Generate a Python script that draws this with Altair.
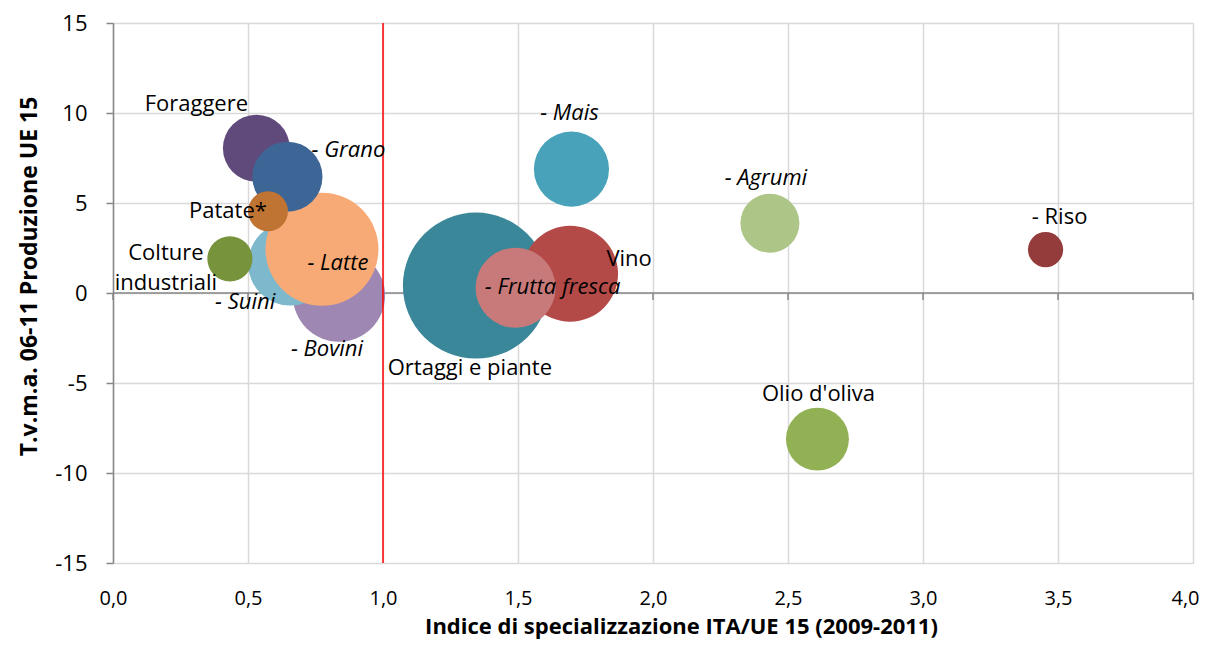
import altair as alt
import pandas as pd

# ---- data ----
prodotti = ["Ortaggi e piante", "Vino", "- Frutta fresca", "- Bovini", "- Suini", "- Latte",
            "Foraggere", "- Grano", "Patate*", "Colture\nindustriali", "- Mais", "- Agrumi",
            "- Riso", "Olio d'oliva"]
indice = [1.344, 1.693, 1.491, 0.837, 0.656, 0.774, 0.531, 0.646, 0.574, 0.433, 1.698, 2.433,
          3.454, 2.609]
tvma = [0.41, 1.07, 0.29, -0.15, 1.63, 2.43, 8.04, 6.46, 4.54, 1.90, 6.88, 3.88, 2.41, -8.12]
valore = [53.3, 23.0, 16.0, 21.2, 17.6, 31.9, 11.2, 12.3, 4.0, 5.1, 14.1, 8.7, 3.1, 9.9]
corsivo = [False, False, True, True, True, True, False, True, False, False, True, True,
           False, False]
colori = ["#3A8799", "#B34A48", "#C87A7A", "#9E87B3", "#7EB8CD", "#F8AA76", "#604A7B",
          "#3D6596", "#C07433", "#77933C", "#48A2BA", "#ADC688", "#943C3B", "#92B054"]
# label offsets from bubble centre, in pixels
label_dx = [-6, 59, 37, -12, -45, 16, -60, 61, -40, -64, -2, -4, 14, 1]
label_dy = [82, -15, -1, 53, 38, 14, -44, -27, 0, -6, -56, -45, -33, -45]

x_ticks = [0, 0.5, 1.0, 1.5, 2.0, 2.5, 3.0, 3.5, 4.0]
y_ticks = [-15, -10, -5, 0, 5, 10, 15]

W, H = 1080, 540
XMIN, XMAX, YMIN, YMAX = 0, 4, -15, 15
px_x = W / (XMAX - XMIN)
px_y = H / (YMAX - YMIN)

df = pd.DataFrame({
    "prodotto": prodotti,
    "indice": indice,
    "tvma": tvma,
    "valore": valore,
    "corsivo": corsivo,
    "ordine": list(range(len(prodotti))),
})
df["lx"] = [a + d / px_x for a, d in zip(indice, label_dx)]
df["ly"] = [b - d / px_y for b, d in zip(tvma, label_dy)]

FONT = "Open Sans"

xscale = alt.Scale(domain=[XMIN, XMAX], nice=False, zero=False)
yscale = alt.Scale(domain=[YMIN, YMAX], nice=False, zero=False)

x_axis = alt.Axis(
    values=x_ticks, grid=True, gridColor="#D9D9D9", gridWidth=1.5, ticks=False, domain=False,
    labelExpr="replace(format(datum.value, '.1f'), '.', ',')",
    labelFont=FONT, labelFontSize=20, labelColor="#000000", labelPadding=25,
    labelOffset={"condition": {"test": "datum.value == 4", "value": -8}, "value": 0},
    labelOverlap=False, labelBound=False, labelFlush=False,
    title="Indice di specializzazione ITA/UE 15 (2009-2011)",
    titleFont=FONT, titleFontSize=22, titleFontWeight="bold", titleColor="#000000",
    titleX=568, titleY=70, titleBaseline="alphabetic", titleAlign="center",
)
y_axis = alt.Axis(
    values=y_ticks, grid=True, gridColor="#D9D9D9", gridWidth=1.5,
    ticks=True, tickSize=7, tickColor="#868686", tickWidth=1.5,
    domain=True, domainColor="#868686", domainWidth=1.5,
    labelExpr="toString(datum.value)", labelOverlap=False,
    labelFont=FONT, labelFontSize=22, labelColor="#000000", labelPadding=19,
    title="T.v.m.a. 06-11 Produzione UE 15",
    titleFont=FONT, titleFontSize=23, titleFontWeight="bold", titleColor="#000000",
    titleAngle=270, titleX=-77, titleY=253, titleBaseline="alphabetic", titleAlign="center",
)

base = alt.Chart(df)

bubbles = base.mark_circle(opacity=1).encode(
    x=alt.X("indice:Q", scale=xscale, axis=x_axis),
    y=alt.Y("tvma:Q", scale=yscale, axis=y_axis),
    size=alt.Size("valore:Q", scale=alt.Scale(domain=[0, 53.3], range=[0, 21316]), legend=None),
    color=alt.Color("prodotto:N", scale=alt.Scale(domain=prodotti, range=colori), legend=None),
    order=alt.Order("ordine:Q"),
)

zero_df = pd.DataFrame({"x": [XMIN], "x2": [XMAX], "y": [0]})
zero_line = alt.Chart(zero_df).mark_rule(color="#868686", strokeWidth=1.5).encode(
    x=alt.X("x:Q", scale=xscale), x2="x2:Q", y=alt.Y("y:Q", scale=yscale)
)
tick_df = pd.DataFrame({"x": x_ticks, "y": [0] * len(x_ticks)})
zero_ticks = alt.Chart(tick_df).mark_tick(
    orient="vertical", color="#868686", thickness=1.5, size=7, yOffset=3.5, opacity=1
).encode(x=alt.X("x:Q", scale=xscale), y=alt.Y("y:Q", scale=yscale))

red_df = pd.DataFrame({"x": [1.0], "y": [YMIN], "y2": [YMAX]})
red_line = alt.Chart(red_df).mark_rule(color="#FF0000", strokeWidth=1.5).encode(
    x=alt.X("x:Q", scale=xscale), y=alt.Y("y:Q", scale=yscale), y2="y2:Q"
)

labels_n = base.transform_filter("!datum.corsivo").mark_text(
    font=FONT, fontSize=22, color="#000000", align="center", baseline="middle",
    lineBreak="\n", lineHeight=30,
).encode(
    x=alt.X("lx:Q", scale=xscale), y=alt.Y("ly:Q", scale=yscale), text="prodotto:N"
)
labels_i = base.transform_filter("datum.corsivo").mark_text(
    font=FONT, fontSize=22, fontStyle="italic", color="#000000", align="center",
    baseline="middle",
).encode(
    x=alt.X("lx:Q", scale=xscale), y=alt.Y("ly:Q", scale=yscale), text="prodotto:N"
)

chart = alt.layer(zero_line, zero_ticks, bubbles, red_line, labels_n, labels_i).properties(
    width=W, height=H,
    autosize=alt.AutoSizeParams(type="none"),
    padding={"left": 105, "top": 15, "right": 7, "bottom": 76},
).configure_view(stroke=None).configure(background="white")

chart.save("out.html", embed_options={"renderer": "svg", "actions": False})
